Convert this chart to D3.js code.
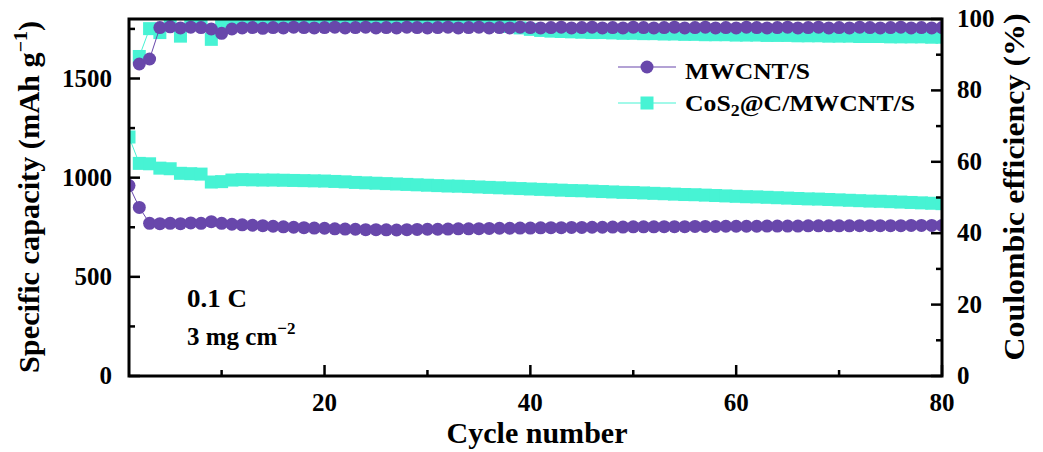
<!DOCTYPE html>
<html>
<head>
<meta charset="utf-8">
<script src="https://cdn.jsdelivr.net/npm/d3@7"></script>
<style>
    body { margin: 0; background: #fff; }
    text { font-family: "Liberation Serif", "Times New Roman", serif; font-weight: bold; fill: #000; }
</style>
</head>
<body>
<div id="chart"></div>
<script>
//////////////////////////////////////////////////////////////
//////////////////////////// Data ////////////////////////////
//////////////////////////////////////////////////////////////

const cycles = d3.range(1, 81)

//Specific capacity (mAh g-1), cycles 1 - 80
const capMWCNT = [
    960, 850, 770, 768, 770, 768, 772, 770, 778, 770,
    765, 762, 760, 758, 755, 752, 750, 748, 746, 745,
    742, 741, 740, 738, 738, 737, 736, 738, 739, 740,
    740, 741, 742, 742, 743, 744, 745, 745, 746, 746,
    747, 748, 748, 749, 749, 750, 750, 751, 751, 752,
    752, 752, 753, 753, 753, 754, 754, 754, 755, 755,
    755, 755, 756, 756, 756, 756, 757, 757, 757, 757,
    757, 758, 758, 758, 758, 758, 759, 759, 759, 759
]
const capCoS2 = [
    1205, 1072, 1070, 1048, 1045, 1022, 1020, 1018, 978, 980,
    988, 990, 989, 988, 988, 987, 986, 985, 984, 983,
    981, 979, 976, 974, 972, 970, 968, 966, 964, 962,
    960, 958, 957, 955, 953, 951, 949, 947, 945, 943,
    941, 939, 937, 935, 934, 932, 930, 928, 926, 925,
    923, 921, 919, 917, 915, 914, 912, 910, 908, 906,
    904, 903, 901, 899, 897, 895, 893, 892, 890, 888,
    886, 884, 882, 881, 879, 877, 875, 873, 871, 869
]

//Coulombic efficiency (%), cycles 2 - 80
const ceMWCNT = [
          87.4, 88.8, 97.6, 97.8, 97.5, 97.7, 97.6, 97.2, 96.0,
    97.2, 97.5, 97.6, 97.4, 97.6, 97.5, 97.7, 97.6, 97.5, 97.6,
    97.7, 97.5, 97.6, 97.7, 97.5, 97.6, 97.5, 97.7, 97.6, 97.5,
    97.6, 97.7, 97.5, 97.6, 97.7, 97.5, 97.6, 97.5, 97.7, 97.6,
    97.5, 97.6, 97.7, 97.5, 97.6, 97.7, 97.5, 97.6, 97.5, 97.7,
    97.6, 97.5, 97.6, 97.7, 97.5, 97.6, 97.7, 97.5, 97.6, 97.5,
    97.7, 97.6, 97.5, 97.6, 97.7, 97.5, 97.6, 97.7, 97.5, 97.6,
    97.5, 97.7, 97.6, 97.5, 97.6, 97.7, 97.5, 97.6, 97.5, 97.6
]
const ceCoS2 = [
          89.5, 97.3, 96.2, 98.6, 95.2, 98.4, 98.5, 94.3, 98.9,
    99.3, 99.5, 99.4, 99.6, 99.5, 99.6, 99.4, 99.5, 99.6, 99.5,
    99.4, 99.5, 99.6, 99.5, 99.4, 99.5, 99.6, 99.5, 99.4, 99.5,
    99.4, 99.3, 99.2, 99.0, 98.8, 98.5, 98.2, 97.9, 97.5, 97.1,
    96.8, 96.6, 96.5, 96.4, 96.3, 96.2, 96.2, 96.1, 96.0, 96.0,
    95.9, 95.9, 95.8, 95.8, 95.7, 95.7, 95.6, 95.6, 95.6, 95.5,
    95.5, 95.5, 95.4, 95.4, 95.4, 95.3, 95.3, 95.3, 95.2, 95.2,
    95.2, 95.1, 95.1, 95.1, 95.0, 95.0, 95.0, 95.0, 94.9, 94.9
]

//Axis ticks
const xTicksMajor = [20, 40, 60, 80]
const xTicksMinor = [10, 30, 50, 70]
const capTicksMajor = [0, 500, 1000, 1500]
const capTicksMinor = [250, 750, 1250, 1750]
const ceTicksMajor = [0, 20, 40, 60, 80, 100]
const ceTicksMinor = [10, 30, 50, 70, 90]

const seriesNames = ["MWCNT/S", "CoS2@C/MWCNT/S"]

//Colors
const colorPurple = "#6847ab"
const colorCyan = "#47f3d4"

//////////////////////////////////////////////////////////////
///////////////////////// Create SVG /////////////////////////
//////////////////////////////////////////////////////////////

const W = 1043
const H = 452
const plot = { left: 129, right: 942, top: 19, bottom: 376 }

const svg = d3.select("#chart").append("svg")
    .attr("width", W)
    .attr("height", H)

svg.append("defs").append("clipPath")
    .attr("id", "plot-clip")
    .append("rect")
    .attr("x", plot.left).attr("y", plot.top)
    .attr("width", plot.right - plot.left)
    .attr("height", plot.bottom - plot.top)

//////////////////////////////////////////////////////////////
/////////////////////////// Scales ///////////////////////////
//////////////////////////////////////////////////////////////

const x = d3.scaleLinear().domain([1, 80]).range([plot.left, plot.right])
const yCap = d3.scaleLinear().domain([0, 1800]).range([plot.bottom, plot.top])
const yCE = d3.scaleLinear().domain([0, 100]).range([plot.bottom, plot.top])

const capData = (arr) => arr.map((v, i) => ({ c: cycles[i], v: v }))
const ceData = (arr) => arr.map((v, i) => ({ c: cycles[i + 1], v: v }))

//////////////////////////////////////////////////////////////
//////////////////////// Draw series /////////////////////////
//////////////////////////////////////////////////////////////

const seriesGroup = svg.append("g").attr("clip-path", "url(#plot-clip)")

function drawSeries(data, yScale, color, shape) {
    const g = seriesGroup.append("g")
    const line = d3.line().x(d => x(d.c)).y(d => yScale(d.v))
    g.append("path")
        .attr("d", line(data))
        .style("fill", "none")
        .style("stroke", color)
        .style("stroke-width", 1)
    if (shape === "square") {
        g.selectAll("rect")
            .data(data)
            .enter().append("rect")
            .attr("x", d => x(d.c) - 6.5)
            .attr("y", d => yScale(d.v) - 6.5)
            .attr("width", 13)
            .attr("height", 13)
            .style("fill", color)
    } else {
        g.selectAll("circle")
            .data(data)
            .enter().append("circle")
            .attr("cx", d => x(d.c))
            .attr("cy", d => yScale(d.v))
            .attr("r", 6.5)
            .style("fill", color)
    }
}

drawSeries(capData(capCoS2), yCap, colorCyan, "square")
drawSeries(ceData(ceCoS2), yCE, colorCyan, "square")
drawSeries(capData(capMWCNT), yCap, colorPurple, "circle")
drawSeries(ceData(ceMWCNT), yCE, colorPurple, "circle")

//////////////////////////////////////////////////////////////
/////////////////////////// Axes /////////////////////////////
//////////////////////////////////////////////////////////////

const axes = svg.append("g")
const tickStyle = sel => sel.style("stroke", "#000").style("stroke-width", 2.5)

//bottom
axes.selectAll(".xt-major").data(xTicksMajor).enter().append("line")
    .attr("x1", d => x(d)).attr("x2", d => x(d))
    .attr("y1", plot.bottom).attr("y2", plot.bottom - 11)
    .call(tickStyle)
axes.selectAll(".xt-minor").data(xTicksMinor).enter().append("line")
    .attr("x1", d => x(d)).attr("x2", d => x(d))
    .attr("y1", plot.bottom).attr("y2", plot.bottom - 6)
    .call(tickStyle)
axes.selectAll(".xt-label").data(xTicksMajor).enter().append("text")
    .attr("x", d => x(d)).attr("y", 411)
    .attr("text-anchor", "middle")
    .style("font-size", "25px")
    .text(d => d)

//left
axes.selectAll(".yl-major").data(capTicksMajor).enter().append("line")
    .attr("x1", plot.left).attr("x2", plot.left + 11)
    .attr("y1", d => yCap(d)).attr("y2", d => yCap(d))
    .call(tickStyle)
axes.selectAll(".yl-minor").data(capTicksMinor).enter().append("line")
    .attr("x1", plot.left).attr("x2", plot.left + 6)
    .attr("y1", d => yCap(d)).attr("y2", d => yCap(d))
    .call(tickStyle)
axes.selectAll(".yl-label").data(capTicksMajor).enter().append("text")
    .attr("x", 112).attr("y", d => yCap(d) + 8)
    .attr("text-anchor", "end")
    .style("font-size", "25px")
    .text(d => d)

//right
axes.selectAll(".yr-major").data(ceTicksMajor).enter().append("line")
    .attr("x1", plot.right).attr("x2", plot.right - 11)
    .attr("y1", d => yCE(d)).attr("y2", d => yCE(d))
    .call(tickStyle)
axes.selectAll(".yr-minor").data(ceTicksMinor).enter().append("line")
    .attr("x1", plot.right).attr("x2", plot.right - 6)
    .attr("y1", d => yCE(d)).attr("y2", d => yCE(d))
    .call(tickStyle)
axes.selectAll(".yr-label").data(ceTicksMajor).enter().append("text")
    .attr("x", 957).attr("y", d => yCE(d) + 8)
    .attr("text-anchor", "start")
    .style("font-size", "25px")
    .text(d => d)

//frame
axes.append("rect")
    .attr("x", plot.left).attr("y", plot.top)
    .attr("width", plot.right - plot.left).attr("height", plot.bottom - plot.top)
    .style("fill", "none")
    .style("stroke", "#000")
    .style("stroke-width", 3)

//////////////////////////////////////////////////////////////
/////////////////////////// Titles ///////////////////////////
//////////////////////////////////////////////////////////////

svg.append("text")
    .attr("x", 537).attr("y", 443)
    .attr("text-anchor", "middle")
    .attr("textLength", 181)
    .attr("lengthAdjust", "spacingAndGlyphs")
    .style("font-size", "29px")
    .text("Cycle number")

const yTitle = svg.append("text")
    .attr("transform", "translate(39," + 197 + ") rotate(-90)")
    .attr("text-anchor", "middle")
    .attr("textLength", 352)
    .attr("lengthAdjust", "spacingAndGlyphs")
    .style("font-size", "29px")
yTitle.append("tspan").text("Specific capacity (mAh g")
yTitle.append("tspan").attr("dy", -12).style("font-size", "19px").text("\u22121")
yTitle.append("tspan").attr("dy", 12).text(")")

svg.append("text")
    .attr("transform", "translate(1024," + 187 + ") rotate(-90)")
    .attr("text-anchor", "middle")
    .attr("textLength", 347)
    .attr("lengthAdjust", "spacingAndGlyphs")
    .style("font-size", "29px")
    .text("Coulombic efficiency (%)")

//////////////////////////////////////////////////////////////
///////////////////////// Annotations ////////////////////////
//////////////////////////////////////////////////////////////

svg.append("text")
    .attr("x", 187).attr("y", 307)
    .attr("textLength", 60)
    .attr("lengthAdjust", "spacingAndGlyphs")
    .style("font-size", "25px")
    .text("0.1 C")

const load = svg.append("text")
    .attr("x", 187).attr("y", 345)
    .style("font-size", "25px")
load.append("tspan").text("3 mg cm")
load.append("tspan").attr("dy", -11).style("font-size", "17px").text("\u22122")

//////////////////////////////////////////////////////////////
/////////////////////////// Legend ///////////////////////////
//////////////////////////////////////////////////////////////

const legend = svg.append("g")
const legendRows = [
    { y: 67, color: colorPurple, shape: "circle" },
    { y: 103, color: colorCyan, shape: "square" }
]

legendRows.forEach((r, i) => {
    legend.append("line")
        .attr("x1", 618).attr("x2", 676)
        .attr("y1", r.y).attr("y2", r.y)
        .style("stroke", r.color).style("stroke-width", 1.2)
    if (r.shape === "circle") {
        legend.append("circle").attr("cx", 647).attr("cy", r.y).attr("r", 6.5).style("fill", r.color)
    } else {
        legend.append("rect").attr("x", 640.5).attr("y", r.y - 6.5).attr("width", 13).attr("height", 13).style("fill", r.color)
    }
})

legend.append("text")
    .attr("x", 685).attr("y", 79)
    .attr("textLength", 125)
    .attr("lengthAdjust", "spacingAndGlyphs")
    .style("font-size", "23px")
    .text(seriesNames[0])

const leg2 = legend.append("text")
    .attr("x", 685).attr("y", 111)
    .attr("textLength", 230)
    .attr("lengthAdjust", "spacingAndGlyphs")
    .style("font-size", "23px")
leg2.append("tspan").text("CoS")
leg2.append("tspan").attr("dy", 5).style("font-size", "16px").text("2")
leg2.append("tspan").attr("dy", -5).text("@C/MWCNT/S")
</script>
</body>
</html>
